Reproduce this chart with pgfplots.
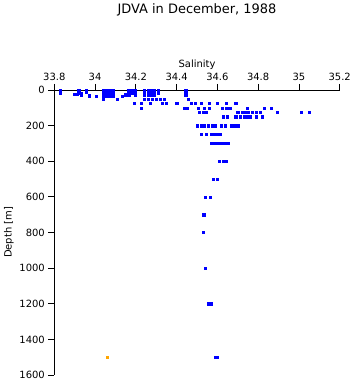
\documentclass[border=0pt]{standalone}
\usepackage{pgfplots}
\pgfplotsset{compat=1.18}
\usepackage{fontspec}
\setmainfont{DejaVu Sans}
\definecolor{pblue}{RGB}{0,0,255}
\definecolor{porange}{RGB}{255,165,0}
\begin{document}
\begin{tikzpicture}[x=1bp,y=1bp]
\useasboundingbox (0,0) rectangle (353,384);
\node[font=\fontsize{13}{15}\selectfont] at (197,374) {JDVA in December, 1988};
\begin{axis}[
  at={(54.3bp,9bp)}, anchor=south west,
  scale only axis, width=285.4bp, height=285bp,
  xmin=33.8, xmax=35.2, ymin=0, ymax=1600,
  y dir=reverse,
  axis x line*=top, axis y line*=left,
  axis line style={line width=0.8bp},
  xtick={33.8,34,34.2,34.4,34.6,34.8,35,35.2},
  xticklabels={33.8,34,34.2,34.4,34.6,34.8,35,35.2},
  ytick={0,200,400,600,800,1000,1200,1400,1600},
  yticklabels={0,200,400,600,800,1000,1200,1400,1600},
  tick align=outside, major tick length=6bp,
  tick style={line width=0.8bp, black},
  ticklabel style={font=\fontsize{10}{12}\selectfont},
  xlabel={Salinity}, ylabel={Depth [m]},
  label style={font=\fontsize{10}{12}\selectfont},
  xlabel style={yshift=-3bp},
  ylabel style={yshift=-1bp},
  clip=false,
]
\addplot[only marks, mark=square*, mark size=1.1bp, color=pblue] coordinates {
(33.83,0) (33.83,10) (33.83,20)
(33.90,25) (33.91,25) (33.92,0) (33.92,10) (33.92,20) (33.93,20) (33.93,30)
(33.955,0) (33.955,10) (33.97,30) (33.97,35) (34.005,35)
(34.04,0) (34.04,10) (34.04,20) (34.04,30) (34.04,40) (34.04,50)
(34.05,0) (34.05,10) (34.05,20) (34.05,35)
(34.06,0) (34.06,10) (34.06,20) (34.06,35)
(34.075,0) (34.075,10) (34.075,20) (34.075,35)
(34.09,0) (34.09,10) (34.09,20) (34.09,35)
(34.11,50) (34.135,35) (34.15,25) (34.15,30)
(34.165,0) (34.165,10) (34.165,20) (34.165,30)
(34.18,0) (34.18,10) (34.18,20)
(34.195,0) (34.195,10) (34.195,20) (34.195,30)
(34.19,75) (34.225,75) (34.225,100)
(34.24,0) (34.24,10) (34.24,20) (34.24,30)
(34.26,0) (34.26,10) (34.26,20) (34.26,30)
(34.275,0) (34.275,10) (34.275,20) (34.275,30)
(34.29,0) (34.29,10) (34.29,20) (34.29,30)
(34.31,0) (34.31,10) (34.31,20)
(34.24,50) (34.26,50) (34.28,50) (34.30,50) (34.32,50) (34.34,50)
(34.27,75) (34.33,75) (34.35,75) (34.40,75)
(34.445,0) (34.445,10) (34.445,20) (34.445,30) (34.455,50)
(34.44,100) (34.45,100) (34.47,75)
(34.49,75) (34.52,75) (34.56,75) (34.60,75) (34.645,75) (34.69,75)
(34.505,100) (34.535,100) (34.56,100) (34.625,100) (34.645,100) (34.66,100) (34.745,100) (34.83,100) (34.865,100)
(34.51,125) (34.53,125) (34.545,125) (34.70,125) (34.72,125) (34.735,125) (34.75,125) (34.77,125) (34.79,125) (34.81,125) (34.895,125) (35.01,125) (35.05,125)
(34.63,150) (34.65,150) (34.69,150) (34.71,150) (34.73,150) (34.745,150) (34.76,150) (34.79,150) (34.82,150)
(34.50,200) (34.52,200) (34.535,200) (34.555,200) (34.575,200) (34.59,200) (34.62,200) (34.64,200) (34.67,200) (34.685,200) (34.70,200)
(34.52,250) (34.545,250) (34.57,250) (34.585,250) (34.60,250) (34.615,250)
(34.57,300) (34.585,300) (34.60,300) (34.615,300) (34.625,300) (34.64,300) (34.655,300)
(34.61,400) (34.63,400) (34.645,400)
(34.58,500) (34.60,500)
(34.54,600) (34.565,600)
(34.53,700) (34.535,700)
(34.529,800)
(34.539,1000)
(34.555,1200) (34.57,1200)
(34.59,1500) (34.60,1500)
};
\addplot[only marks, mark=square*, mark size=1.1bp, color=porange] coordinates {(34.06,1500)};
\end{axis}
\end{tikzpicture}
\end{document}
